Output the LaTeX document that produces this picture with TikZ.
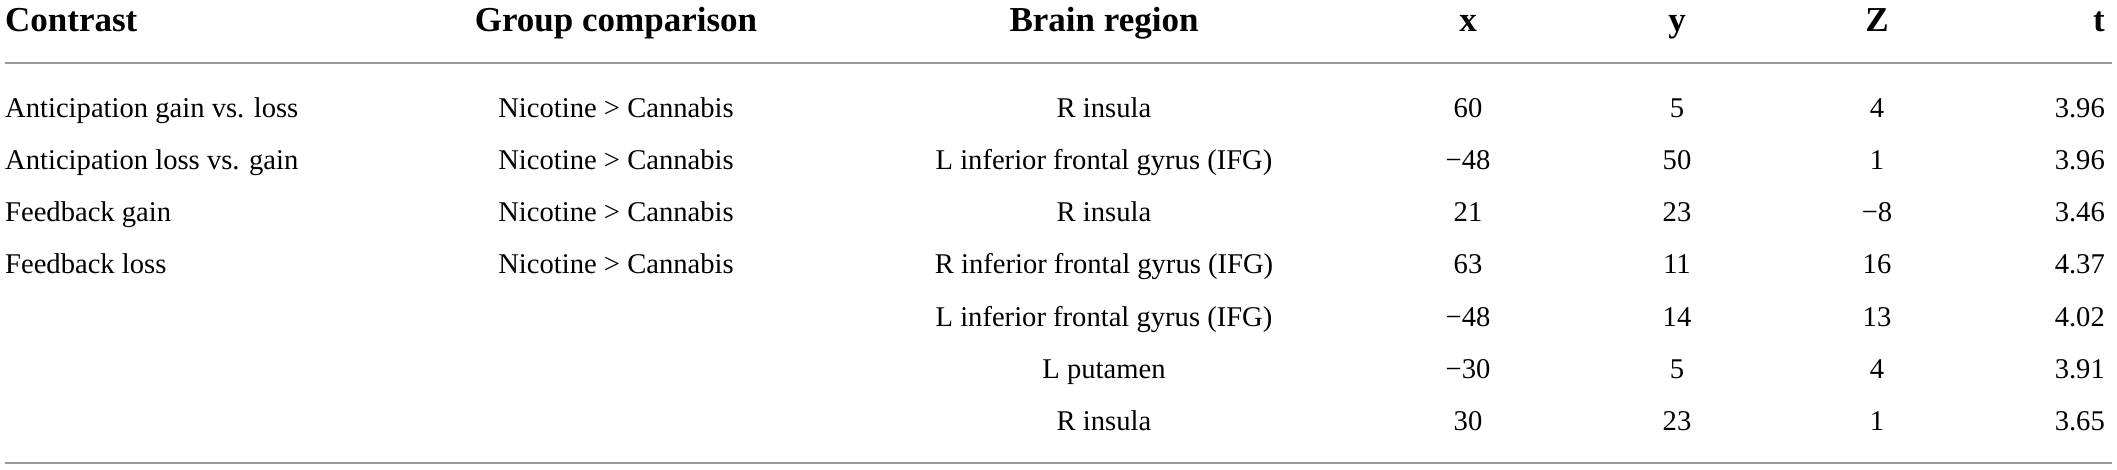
\documentclass[tikz,border=0pt]{standalone}
\usepackage{fontspec}
\setmainfont{Liberation Serif}
\begin{document}
\begin{tikzpicture}[x=1pt,y=1pt,
  hdr/.style={anchor=base, inner sep=0pt, font=\fontsize{35}{40}\selectfont\bfseries},
  cell/.style={anchor=base, inner sep=0pt, font=\fontsize{28.6}{34}\selectfont},
  rulel/.style={draw=black!40, line width=1.5pt}]
\useasboundingbox (0,0) rectangle (2117,469);
% header
\node[hdr, anchor=base west] (hC) at (5,437) {Contrast};
\node[hdr] (hG) at (616,437) {Group comparison};
\node[hdr] (hB) at (1104,437) {Brain region};
\node[hdr] (hx) at (1468,437) {x};
\node[hdr] (hy) at (1677,437) {y};
\node[hdr] (hZ) at (1877,437) {Z};
\node[hdr, anchor=base east] (ht) at (2105,437) {t};
% rules
\coordinate (r1a) at (5,406); \coordinate (r1b) at (2112,406);
\coordinate (r2a) at (5,6); \coordinate (r2b) at (2112,6);
\draw[rulel] (r1a) -- (r1b);
\draw[rulel] (r2a) -- (r2b);
% row 1
\node[cell, anchor=base west] (c1a) at (5,351) {Anticipation gain vs. loss};
\node[cell] (c1b) at (616,351) {Nicotine > Cannabis};
\node[cell] (c1c) at (1104,351) {R insula};
\node[cell] (c1x) at (1468,351) {60};
\node[cell] (c1y) at (1677,351) {5};
\node[cell] (c1z) at (1877,351) {4};
\node[cell, anchor=base east] (c1t) at (2105,351) {3.96};
% row 2
\node[cell, anchor=base west] (c2a) at (5,299) {Anticipation loss vs. gain};
\node[cell] (c2b) at (616,299) {Nicotine > Cannabis};
\node[cell] (c2c) at (1104,299) {L inferior frontal gyrus (IFG)};
\node[cell] (c2x) at (1468,299) {−48};
\node[cell] (c2y) at (1677,299) {50};
\node[cell] (c2z) at (1877,299) {1};
\node[cell, anchor=base east] (c2t) at (2105,299) {3.96};
% row 3
\node[cell, anchor=base west] (c3a) at (5,247) {Feedback gain};
\node[cell] (c3b) at (616,247) {Nicotine > Cannabis};
\node[cell] (c3c) at (1104,247) {R insula};
\node[cell] (c3x) at (1468,247) {21};
\node[cell] (c3y) at (1677,247) {23};
\node[cell] (c3z) at (1877,247) {−8};
\node[cell, anchor=base east] (c3t) at (2105,247) {3.46};
% row 4
\node[cell, anchor=base west] (c4a) at (5,195) {Feedback loss};
\node[cell] (c4b) at (616,195) {Nicotine > Cannabis};
\node[cell] (c4c) at (1104,195) {R inferior frontal gyrus (IFG)};
\node[cell] (c4x) at (1468,195) {63};
\node[cell] (c4y) at (1677,195) {11};
\node[cell] (c4z) at (1877,195) {16};
\node[cell, anchor=base east] (c4t) at (2105,195) {4.37};
% row 5
\node[cell] (c5c) at (1104,143) {L inferior frontal gyrus (IFG)};
\node[cell] (c5x) at (1468,143) {−48};
\node[cell] (c5y) at (1677,143) {14};
\node[cell] (c5z) at (1877,143) {13};
\node[cell, anchor=base east] (c5t) at (2105,143) {4.02};
% row 6
\node[cell] (c6c) at (1104,91) {L putamen};
\node[cell] (c6x) at (1468,91) {−30};
\node[cell] (c6y) at (1677,91) {5};
\node[cell] (c6z) at (1877,91) {4};
\node[cell, anchor=base east] (c6t) at (2105,91) {3.91};
% row 7
\node[cell] (c7c) at (1104,39) {R insula};
\node[cell] (c7x) at (1468,39) {30};
\node[cell] (c7y) at (1677,39) {23};
\node[cell] (c7z) at (1877,39) {1};
\node[cell, anchor=base east] (c7t) at (2105,39) {3.65};
\end{tikzpicture}
\end{document}
